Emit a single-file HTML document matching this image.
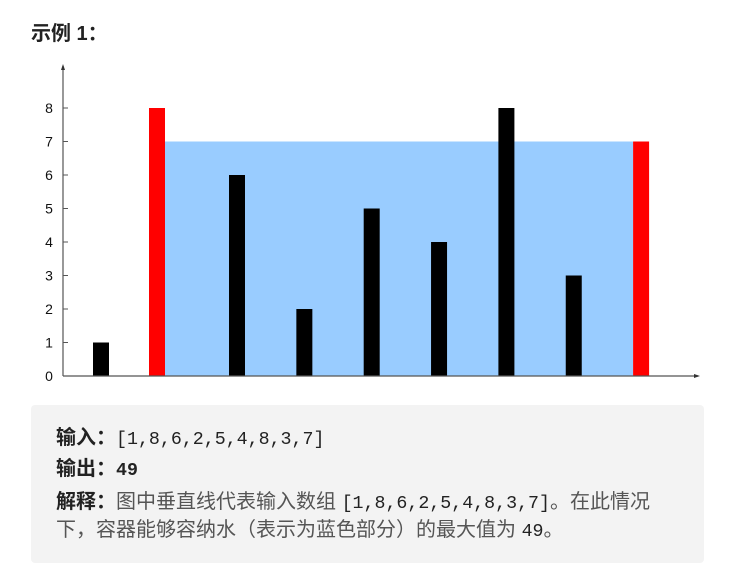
<!DOCTYPE html>
<html><head><meta charset="utf-8"><style>
body{margin:0;width:740px;height:572px;background:#fff;overflow:hidden;position:relative;font-family:"Liberation Sans","Noto Sans CJK SC",sans-serif}
.title{position:absolute;left:31px;top:17px;font-size:20px;font-weight:bold;color:#222}
.box{position:absolute;left:31px;top:405px;width:673px;height:158px;background:#f3f3f3;border-radius:4px}
.line{position:absolute;left:25px;font-size:20px;color:#555;white-space:nowrap;line-height:24px}
.b{font-weight:bold;color:#222}
.m{font-family:"Liberation Mono","Noto Sans CJK SC",monospace;color:#222;font-size:18.3px}
</style></head><body>
<div class="title">示例 1：</div>
<svg id="chart" width="740" height="400" style="position:absolute;left:0;top:0"></svg>
<div class="box">
<div class="line" style="top:21px"><span class="b">输入：</span><span class="m">[1,8,6,2,5,4,8,3,7]</span></div>
<div class="line" style="top:52px"><span class="b">输出：</span><span class="m b">49</span></div>
<div class="line" style="top:85px"><span class="b">解释：</span>图中垂直线代表输入数组 <span class="m">[1,8,6,2,5,4,8,3,7]</span>。在此情况</div>
<div class="line" style="top:113px">下，容器能够容纳水（表示为蓝色部分）的最大值为 <span class="m">49</span>。</div>
</div>
<script>
const heights=[1,8,6,2,5,4,8,3,7];
const highlight=[1,8];
const waterLevel=7;
const yTicks=[0,1,2,3,4,5,6,7,8];
const svg=document.getElementById('chart');
const NS='http://www.w3.org/2000/svg';
const x=i=>i===0?101:(i===1?157:237+67.35*(i-2));
const y=v=>376-33.5*v;
function mk(t,a){const e=document.createElementNS(NS,t);for(const k in a)e.setAttribute(k,a[k]);svg.appendChild(e);return e;}
const l=highlight[0],r=highlight[1];
const w=mk('rect',{x:x(l)+8,y:y(waterLevel),width:x(r)-x(l)-16,height:y(0)-y(waterLevel),fill:'#99ccff'});


heights.forEach((h,i)=>{
  const b=mk('rect',{x:x(i)-8,y:y(h),width:16,height:y(0)-y(h),fill:highlight.includes(i)?'#ff0000':'#000'});
  
  
});
const ax=mk('path',{d:'M63 376 L63 66 M63 376 L698 376',stroke:'#555','stroke-width':1.2,fill:'none'});


mk('path',{d:'M61 70 L63 64 L65 70 Z M694 374 L700 376 L694 378 Z',fill:'#333'});
yTicks.forEach(v=>{
  mk('line',{x1:63,x2:68,y1:y(v),y2:y(v),stroke:'#555'});
  const t=mk('text',{x:49,y:y(v)+5,'font-size':14,'text-anchor':'middle',fill:'#111','font-family':'Liberation Sans'});
  t.textContent=v;
  
  
});
</script>
</body></html>
